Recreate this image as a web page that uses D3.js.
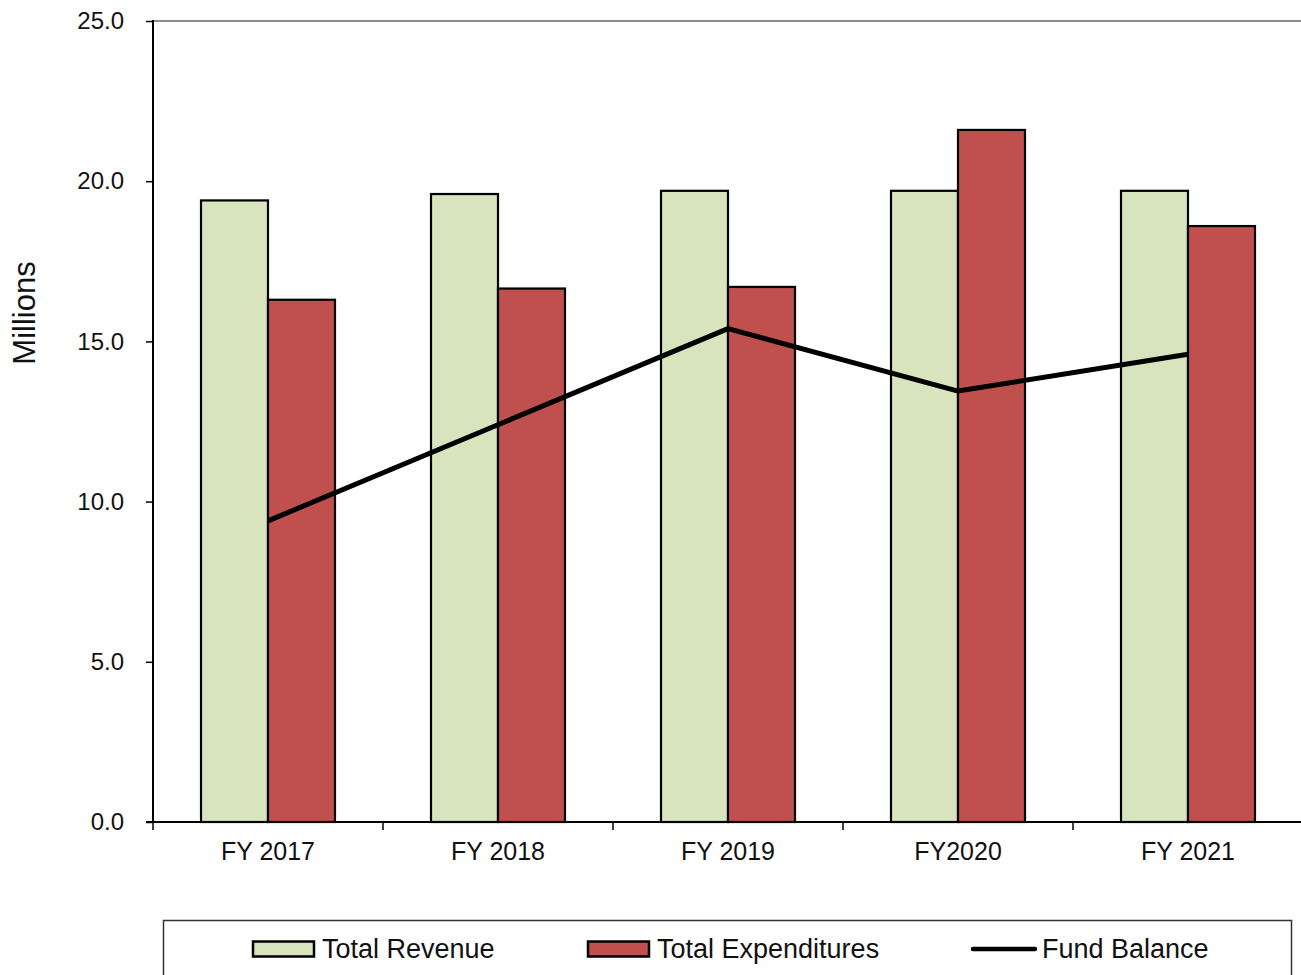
<!DOCTYPE html>
<html>
<head>
<meta charset="utf-8">
<script src="https://cdn.jsdelivr.net/npm/d3@7"></script>
<style>
  html, body { margin: 0; padding: 0; background: #fff; }
  svg { display: block; font-family: "Liberation Sans", Arial, sans-serif; }
</style>
</head>
<body>
<svg id="chart" width="1301" height="975"></svg>
<script>
const categories = ["FY 2017", "FY 2018", "FY 2019", "FY2020", "FY 2021"];
const seriesNames = ["Total Revenue", "Total Expenditures"];
const totalRevenue = [19.4, 19.6, 19.7, 19.7, 19.7];
const totalExpenditures = [16.3, 16.65, 16.7, 21.6, 18.6];
const fundBalance = [9.4, 12.4, 15.4, 13.45, 14.6];
const yTicks = [0, 5, 10, 15, 20, 25];
const colors = { "Total Revenue": "#D7E4BD", "Total Expenditures": "#C0504D" };

(function () {
const svg = d3.select("#chart");
const pLeft = 153, pRight = 1303, pTop = 21, pBottom = 822;

const x0 = d3.scaleBand().domain(categories).range([pLeft, pRight]).paddingInner(0).paddingOuter(0);
const x1 = d3.scaleBand().domain(seriesNames).range([48, 182]).padding(0);
const y = d3.scaleLinear().domain([0, 25]).range([pBottom, pTop]);

// top border
svg.append("line").attr("x1", pLeft).attr("x2", 1301).attr("y1", pTop).attr("y2", pTop)
  .attr("stroke", "#8c8c8c").attr("stroke-width", 2);

// bars
const rows = categories.map((c, i) => ({ cat: c, vals: [
  { s: "Total Revenue", v: totalRevenue[i] },
  { s: "Total Expenditures", v: totalExpenditures[i] } ] }));

const g = svg.append("g").selectAll("g").data(rows).join("g")
  .attr("transform", d => `translate(${x0(d.cat)},0)`);
g.selectAll("rect").data(d => d.vals).join("rect")
  .attr("x", d => x1(d.s))
  .attr("y", d => y(d.v))
  .attr("width", x1.bandwidth())
  .attr("height", d => y(0) - y(d.v))
  .attr("fill", d => colors[d.s])
  .attr("stroke", "#000").attr("stroke-width", 2.2);

// line
const line = d3.line().x((d, i) => x0(categories[i]) + x0.bandwidth() / 2).y(d => y(d));
svg.append("path").datum(fundBalance).attr("d", line)
  .attr("fill", "none").attr("stroke", "#000").attr("stroke-width", 5)
  .attr("stroke-linejoin", "round");

// y axis
const yAxis = svg.append("g").attr("transform", `translate(${pLeft},0)`)
  .call(d3.axisLeft(y).tickValues(yTicks).tickFormat(d3.format(".1f")).tickSize(7).tickPadding(22));
yAxis.select(".domain").attr("stroke", "#000").attr("stroke-width", 2).attr("d", `M0,${pBottom + 1}V${pTop - 1}`);
yAxis.selectAll(".tick line").attr("stroke", "#000").attr("stroke-width", 1.5);
yAxis.selectAll("text").attr("font-size", 24).attr("fill", "#111").attr("font-family", "Liberation Sans, Arial, sans-serif");

// x axis
const xAxis = svg.append("g").attr("transform", `translate(0,${pBottom})`)
  .call(d3.axisBottom(x0).tickSize(0).tickPadding(20));
xAxis.select(".domain").remove();
xAxis.selectAll("text").attr("font-size", 25).attr("fill", "#111").attr("font-family", "Liberation Sans, Arial, sans-serif");
svg.append("line").attr("x1", pLeft - 7).attr("x2", 1301).attr("y1", pBottom).attr("y2", pBottom)
  .attr("stroke", "#000").attr("stroke-width", 2);
svg.append("g").selectAll("line").data(categories).join("line")
  .attr("x1", d => x0(d)).attr("x2", d => x0(d))
  .attr("y1", pBottom).attr("y2", pBottom + 8)
  .attr("stroke", "#000").attr("stroke-width", 1.5);

// y label
svg.append("text").attr("transform", "translate(35,313) rotate(-90)")
  .attr("text-anchor", "middle").attr("font-size", 31).attr("fill", "#111").text("Millions");

// legend
svg.append("rect").attr("x", 163.5).attr("y", 920.5).attr("width", 1128).attr("height", 80)
  .attr("fill", "none").attr("stroke", "#333").attr("stroke-width", 1.5);
const legendItems = [
  { name: "Total Revenue", type: "rect", x: 253 },
  { name: "Total Expenditures", type: "rect", x: 588 },
  { name: "Fund Balance", type: "line", x: 973 }
];
const lg = svg.append("g").selectAll("g").data(legendItems).join("g")
  .attr("transform", d => `translate(${d.x},949)`);
lg.filter(d => d.type === "rect").append("rect")
  .attr("x", 0).attr("y", -7.5).attr("width", 61).attr("height", 15)
  .attr("fill", d => colors[d.name]).attr("stroke", "#000").attr("stroke-width", 2.5);
lg.filter(d => d.type === "line").append("line")
  .attr("x1", 0).attr("x2", 62).attr("y1", 0).attr("y2", 0)
  .attr("stroke", "#000").attr("stroke-width", 4.5).attr("stroke-linecap", "round");
lg.append("text").attr("x", 69).attr("y", 0).attr("dy", "0.35em")
  .attr("font-size", 27).attr("fill", "#111").text(d => d.name);
})();
</script>
</body>
</html>
